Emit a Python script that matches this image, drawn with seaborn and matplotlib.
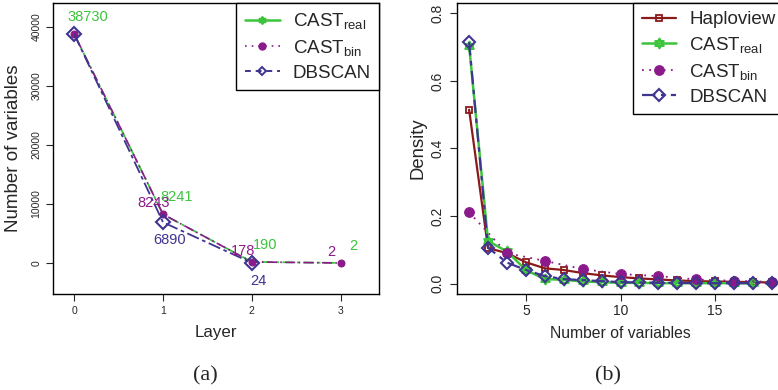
import numpy as np
import seaborn as sns
import matplotlib.pyplot as plt
from matplotlib.path import Path
from matplotlib.lines import Line2D

# 패널 (a): 레이어별 변수 개수
layers = [0, 1, 2, 3]
cast_real_a = [38730, 8241, 190, 2]
cast_bin_a = [38730, 8243, 178, 2]
dbscan_layers = [0, 1, 2]
dbscan_a = [38730, 6890, 24]

# 패널 (b): 블록 크기(변수 개수)별 밀도
hap_x = list(range(2, 19))
hap_y = [0.515, 0.105, 0.090, 0.063, 0.045, 0.040, 0.031, 0.024, 0.019,
         0.015, 0.012, 0.009, 0.007, 0.006, 0.005, 0.004, 0.003]
real_x = list(range(2, 18))
real_y = [0.705, 0.126, 0.095, 0.040, 0.013, 0.011, 0.006, 0.004, 0.002,
          0.002, 0.001, 0.001, 0.001, 0.001, 0.001, 0.001]
bin_x = [2, 4, 6, 8, 10, 12, 14, 16, 18]
bin_y = [0.211, 0.090, 0.067, 0.043, 0.028, 0.022, 0.012, 0.008, 0.005]
db_x = list(range(2, 19))
db_y = [0.715, 0.106, 0.062, 0.040, 0.022, 0.013, 0.010, 0.007, 0.004,
        0.003, 0.002, 0.002, 0.001, 0.001, 0.001, 0.001, 0.001]

GREEN = "#3cc43c"
PURPLE = "#8b1a8b"
BLUE = "#3f3490"
RED = "#8b1a1a"

LBL_REAL = r"CAST$_{\mathrm{real}}$"
LBL_BIN = r"CAST$_{\mathrm{bin}}$"

sns.set_style("white")
plt.rcParams["font.family"] = ["Liberation Sans", "DejaVu Sans"]
plt.rcParams["mathtext.fontset"] = "custom"
plt.rcParams["mathtext.rm"] = "Liberation Sans"
plt.rcParams["mathtext.it"] = "Liberation Sans:italic"
plt.rcParams["axes.edgecolor"] = "black"
plt.rcParams["axes.linewidth"] = 1.0

# 삼각형 두 개를 겹친 별 마커 (R pch 11)
_up = [(0, 1), (-0.866, -0.5), (0.866, -0.5), (0, 1)]
_dn = [(0, -1), (-0.866, 0.5), (0.866, 0.5), (0, -1)]
STAR = Path(_up + _dn, [Path.MOVETO, Path.LINETO, Path.LINETO, Path.CLOSEPOLY] * 2)

fig = plt.figure(figsize=(7.78, 3.9), dpi=100)
W, H = 778, 390
ax1 = fig.add_axes([53.3 / W, 1 - 294.3 / H, 326 / W, 291.6 / H])
ax2 = fig.add_axes([457 / W, 1 - 294.3 / H, 327 / W, 291.6 / H])

# ---------- (a) ----------
sns.lineplot(x=layers, y=cast_real_a, ax=ax1, color=GREEN, lw=1.3,
             linestyle=(0, (6, 2, 1.5, 2)), marker=STAR, markersize=4,
             mfc="none", mec=GREEN, mew=1.2)
sns.lineplot(x=layers, y=cast_bin_a, ax=ax1, color=PURPLE, lw=1.2,
             linestyle=(0, (1, 2, 6, 2)), marker="o", markersize=5,
             mfc=PURPLE, mec=PURPLE)
sns.lineplot(x=dbscan_layers, y=dbscan_a, ax=ax1, color=BLUE, lw=1.3,
             linestyle=(0, (7, 2, 2, 2)), marker="D", markersize=7,
             mfc="none", mec=BLUE, mew=1.5)

for i, (x, v) in enumerate(zip(layers, cast_real_a)):
    ax1.annotate(str(v), (x, v), xytext=(9.5, 12.5), textcoords="offset points",
                 color=GREEN, fontsize=10.5, ha="center", va="center")
for i, (x, v) in enumerate(zip(layers, cast_bin_a)):
    if i == 0:
        continue
    ax1.annotate(str(v), (x, v), xytext=(-6.5, 8), textcoords="offset points",
                 color=PURPLE, fontsize=10.5, ha="center", va="center")
for i, (x, v) in enumerate(zip(dbscan_layers, dbscan_a)):
    if i == 0:
        continue
    ax1.annotate(str(v), (x, v), xytext=(5, -13), textcoords="offset points",
                 color=BLUE, fontsize=10.5, ha="center", va="center")

ax1.set_xlim(-0.236, 3.436)
ax1.set_ylim(-5300, 44060)
ax1.set_xticks(layers)
ax1.set_yticks([0, 10000, 20000, 30000, 40000])
ax1.tick_params(axis="both", direction="out", length=5, width=0.8,
                labelsize=7.5, pad=3.5, left=True, bottom=True)
for t in ax1.get_yticklabels():
    t.set_rotation(90)
    t.set_va("center")
ax1.set_xlabel("Layer", fontsize=12.2, va="center")
ax1.set_ylabel("Number of variables", fontsize=13.5, va="center")
ax1.xaxis.set_label_coords(0.5, (294.3 - 333) / 291.6)
ax1.yaxis.set_label_coords((14 - 53.3) / 326, 0.5)

handles_a = [
    Line2D([], [], color=GREEN, lw=1.8, marker=STAR, markersize=5, mfc="none", mec=GREEN, mew=1.5),
    Line2D([], [], color=PURPLE, lw=1.2, linestyle=(0, (1, 3)), marker="o", markersize=5),
    Line2D([], [], color=BLUE, lw=1.4, linestyle=(0, (3, 2.5)), marker="D", markersize=4.5,
           mfc="none", mec=BLUE, mew=1.4),
]
ax1.legend(handles_a, [LBL_REAL, LBL_BIN, "DBSCAN"], loc="upper right",
           borderaxespad=0, fancybox=False, edgecolor="black", framealpha=1,
           fontsize=13.5, handlelength=1.85, handletextpad=0.7, labelspacing=0.36,
           borderpad=0.45).get_frame().set_linewidth(1.0)

# ---------- (b) ----------
sns.lineplot(x=hap_x, y=hap_y, ax=ax2, color=RED, lw=1.6, marker="s", markersize=4.5,
             mfc="none", mec=RED, mew=1.3, label="Haploview")
sns.lineplot(x=real_x, y=real_y, ax=ax2, color=GREEN, lw=1.8, marker=STAR, markersize=7,
             mfc="none", mec=GREEN, mew=1.5, label=LBL_REAL)
sns.lineplot(x=bin_x, y=bin_y, ax=ax2, color=PURPLE, lw=1.3, linestyle=(0, (1, 3)),
             marker="o", markersize=7, mfc=PURPLE, mec=PURPLE, label=LBL_BIN)
sns.lineplot(x=db_x, y=db_y, ax=ax2, color=BLUE, lw=1.6, linestyle=(0, (6, 2.5, 2, 2.5)),
             marker="D", markersize=6.5, mfc="none", mec=BLUE, mew=1.5, label="DBSCAN")

ax2.set_xlim(1.36, 18.64)
ax2.set_ylim(-0.032, 0.832)
ax2.set_xticks([5, 10, 15])
ax2.set_yticks([0.0, 0.2, 0.4, 0.6, 0.8])
ax2.set_yticklabels(["0.0", "0.2", "0.4", "0.6", "0.8"])
ax2.tick_params(axis="y", direction="out", length=5, width=0.8, labelsize=10,
                pad=3.8, left=True)
ax2.tick_params(axis="x", direction="out", length=5, width=0.8, labelsize=10,
                pad=2.2, bottom=True)
for t in ax2.get_yticklabels():
    t.set_rotation(90)
    t.set_va("center")
ax2.set_xlabel("Number of variables", fontsize=11.3, va="center")
ax2.set_ylabel("Density", fontsize=13.3, va="center")
ax2.xaxis.set_label_coords(0.5, (294.3 - 333) / 291.6)
ax2.yaxis.set_label_coords((418 - 457) / 327, 0.5)

h, l = ax2.get_legend_handles_labels()
ax2.legend(h, l, loc="upper right", borderaxespad=0, fancybox=False,
           edgecolor="black", framealpha=1, fontsize=13.5, handlelength=1.85,
           handletextpad=0.7, labelspacing=0.36,
           borderpad=0.45).get_frame().set_linewidth(1.0)

fig.text(205 / W, 1 - 376 / H, "(a)", family=["Liberation Serif"], fontsize=16,
         ha="center", va="center")
fig.text(608 / W, 1 - 376 / H, "(b)", family=["Liberation Serif"], fontsize=16,
         ha="center", va="center")

fig.savefig("out.png", dpi=100)
